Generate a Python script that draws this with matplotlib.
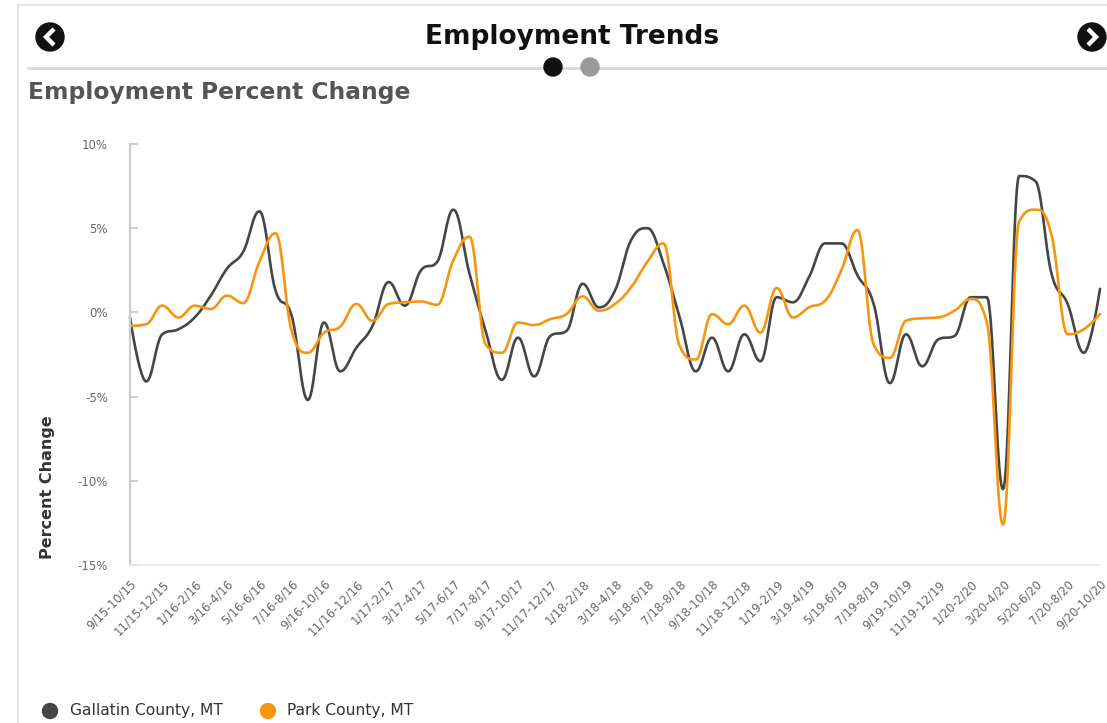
import matplotlib
matplotlib.use("Agg")
import matplotlib.pyplot as plt
from matplotlib.patches import Circle
import numpy as np

# ---------------- data ----------------
categories = [
    "9/15-10/15", "10/15-11/15", "11/15-12/15", "12/15-1/16", "1/16-2/16", "2/16-3/16",
    "3/16-4/16", "4/16-5/16", "5/16-6/16", "6/16-7/16", "7/16-8/16", "8/16-9/16",
    "9/16-10/16", "10/16-11/16", "11/16-12/16", "12/16-1/17", "1/17-2/17", "2/17-3/17",
    "3/17-4/17", "4/17-5/17", "5/17-6/17", "6/17-7/17", "7/17-8/17", "8/17-9/17",
    "9/17-10/17", "10/17-11/17", "11/17-12/17", "12/17-1/18", "1/18-2/18", "2/18-3/18",
    "3/18-4/18", "4/18-5/18", "5/18-6/18", "6/18-7/18", "7/18-8/18", "8/18-9/18",
    "9/18-10/18", "10/18-11/18", "11/18-12/18", "12/18-1/19", "1/19-2/19", "2/19-3/19",
    "3/19-4/19", "4/19-5/19", "5/19-6/19", "6/19-7/19", "7/19-8/19", "8/19-9/19",
    "9/19-10/19", "10/19-11/19", "11/19-12/19", "12/19-1/20", "1/20-2/20", "2/20-3/20",
    "3/20-4/20", "4/20-5/20", "5/20-6/20", "6/20-7/20", "7/20-8/20", "8/20-9/20",
    "9/20-10/20",
]

gallatin = [
    -0.3, -4.1, -1.3, -1.0, -0.3, 1.0, 2.6, 3.6, 6.0, 1.3,
    -0.2, -5.2, -0.6, -3.5, -2.1, -0.8, 1.8, 0.4, 2.5, 3.0,
    6.1, 2.3, -1.1, -4.0, -1.5, -3.8, -1.4, -1.1, 1.7, 0.3,
    1.3, 4.3, 5.0, 2.9, -0.3, -3.5, -1.5, -3.5, -1.3, -2.9,
    0.9, 0.6, 2.1, 4.1, 4.1, 2.2, 0.5, -4.2, -1.3, -3.2,
    -1.6, -1.4, 0.9, 0.9, -10.5, 8.1, 7.8, 2.3, 0.5, -2.4,
    1.4,
]

park = [
    -0.8, -0.7, 0.4, -0.3, 0.4, 0.2, 1.0, 0.55, 3.0, 4.7,
    -1.1, -2.4, -1.2, -0.85, 0.5, -0.5, 0.5, 0.6, 0.65, 0.45,
    3.1, 4.5, -1.9, -2.4, -0.6, -0.75, -0.4, -0.1, 0.95, 0.1,
    0.5, 1.5, 3.0, 4.1, -2.0, -2.8, -0.1, -0.7, 0.4, -1.2,
    1.45, -0.3, 0.3, 0.7, 2.5, 4.9, -1.9, -2.7, -0.5, -0.35,
    -0.3, 0.1, 0.8, -0.6, -12.6, 5.4, 6.1, 4.6, -1.3, -1.0,
    -0.1,
]

series_names = ["Gallatin County, MT", "Park County, MT"]
series_colors = ["#454545", "#f7950f"]
y_ticks = [10, 5, 0, -5, -10, -15]


def hc_spline(xs, ys, smoothing=1.5, n=24):
    """Highcharts-style spline: cubic bezier with clamped control points."""
    N = len(xs)
    lc = [None] * N
    rc = [None] * N
    for i in range(N):
        px, py = xs[i], ys[i]
        if 0 < i < N - 1:
            lx, ly = xs[i - 1], ys[i - 1]
            nx, ny = xs[i + 1], ys[i + 1]
            d = smoothing + 1
            lcx = (smoothing * px + lx) / d
            lcy = (smoothing * py + ly) / d
            rcx = (smoothing * px + nx) / d
            rcy = (smoothing * py + ny) / d
            if rcx != lcx:
                corr = ((rcy - lcy) * (rcx - px)) / (rcx - lcx) + py - rcy
                lcy += corr
                rcy += corr
            if lcy > ly and lcy > py:
                lcy = max(ly, py)
                rcy = 2 * py - lcy
            elif lcy < ly and lcy < py:
                lcy = min(ly, py)
                rcy = 2 * py - lcy
            if rcy > ny and rcy > py:
                rcy = max(ny, py)
                lcy = 2 * py - rcy
            elif rcy < ny and rcy < py:
                rcy = min(ny, py)
                lcy = 2 * py - rcy
            lc[i] = (lcx, lcy)
            rc[i] = (rcx, rcy)
        else:
            lc[i] = rc[i] = (px, py)
    t = np.linspace(0, 1, n)
    ox, oy = [xs[0]], [ys[0]]
    for i in range(1, N):
        p0 = np.array([xs[i - 1], ys[i - 1]])
        p1 = np.array(rc[i - 1])
        p2 = np.array(lc[i])
        p3 = np.array([xs[i], ys[i]])
        pts = ((1 - t)[:, None] ** 3 * p0 + 3 * ((1 - t) ** 2 * t)[:, None] * p1
               + 3 * ((1 - t) * t ** 2)[:, None] * p2 + (t ** 3)[:, None] * p3)
        ox.extend(pts[1:, 0])
        oy.extend(pts[1:, 1])
    return np.array(ox), np.array(oy)


W, H = 1107, 723
fig = plt.figure(figsize=(W / 100, H / 100), dpi=100)
fig.patch.set_facecolor("white")

# background / decoration layer in pixel coordinates
bg = fig.add_axes([0, 0, 1, 1], zorder=0)
bg.set_xlim(0, W)
bg.set_ylim(H, 0)
bg.axis("off")

# card border
bg.plot([18, 18], [5, H], color="#e4e4e4", lw=1.5)
bg.plot([18, W], [5, 5], color="#e4e4e4", lw=1.5)

# arrow buttons
for cx, direction in [(50, -1), (1092, 1)]:
    bg.add_patch(Circle((cx, 37), 14, color="#111111", zorder=2))
    bg.plot([cx - 4 * direction, cx + 4 * direction, cx - 4 * direction],
            [29, 37, 45], color="white", lw=3.2, zorder=3,
            solid_joinstyle="miter", solid_capstyle="butt")

bg.text(572, 37, "Employment Trends", ha="center", va="center",
        fontsize=19, fontweight="bold", color="#111111")

bg.plot([28, W], [68, 68], color="#d9d9d9", lw=2)
bg.add_patch(Circle((553, 67), 9, color="#111111", zorder=3))
bg.add_patch(Circle((590, 67), 9, color="#9a9a9a", zorder=3))

bg.text(28, 93, "Employment Percent Change", ha="left", va="center",
        fontsize=16.8, fontweight="bold", color="#555555")

bg.text(48, 487, "Percent Change", rotation=90, ha="center", va="center",
        fontsize=11.5, fontweight="bold", color="#333333")

# legend
leg_pos = [(50, 70), (268, 287)]
for (mx, tx), name, col in zip(leg_pos, series_names, series_colors):
    bg.add_patch(Circle((mx, 711), 7.5, color=col, zorder=3))
    bg.text(tx, 711, name, ha="left", va="center", fontsize=11.2, color="#333333")

# ---------------- main plot ----------------
ax = fig.add_axes([130 / W, 1 - 565 / H, 970 / W, 421 / H], zorder=1)
ax.set_facecolor("none")

x = np.arange(len(categories))
for vals, col in zip([gallatin, park], series_colors):
    sx, sy = hc_spline(x, vals)
    ax.plot(sx, sy, color=col, lw=1.9, solid_capstyle="round", clip_on=False)

ax.set_xlim(0, len(categories) - 1)
ax.set_ylim(-15, 10)
ax.set_yticks(y_ticks)
ax.set_yticklabels([f"{v}%" for v in y_ticks])
ax.set_xticks(x[::2])
ax.set_xticklabels(categories[::2], rotation=45, ha="right", va="top",
                   rotation_mode="anchor")

for s in ["top", "right"]:
    ax.spines[s].set_visible(False)
ax.spines["left"].set_color("#cccccc")
ax.spines["left"].set_linewidth(1.6)
ax.spines["bottom"].set_color("#e6e6e6")
ax.spines["bottom"].set_linewidth(1.2)

ax.tick_params(axis="y", direction="in", length=6, width=1.4, color="#cccccc",
               labelsize=8.5, labelcolor="#666666", pad=16)
ax.tick_params(axis="x", length=0, labelsize=8.5, labelcolor="#666666", pad=9)

fig.savefig("out.png", dpi=100, facecolor="white")
